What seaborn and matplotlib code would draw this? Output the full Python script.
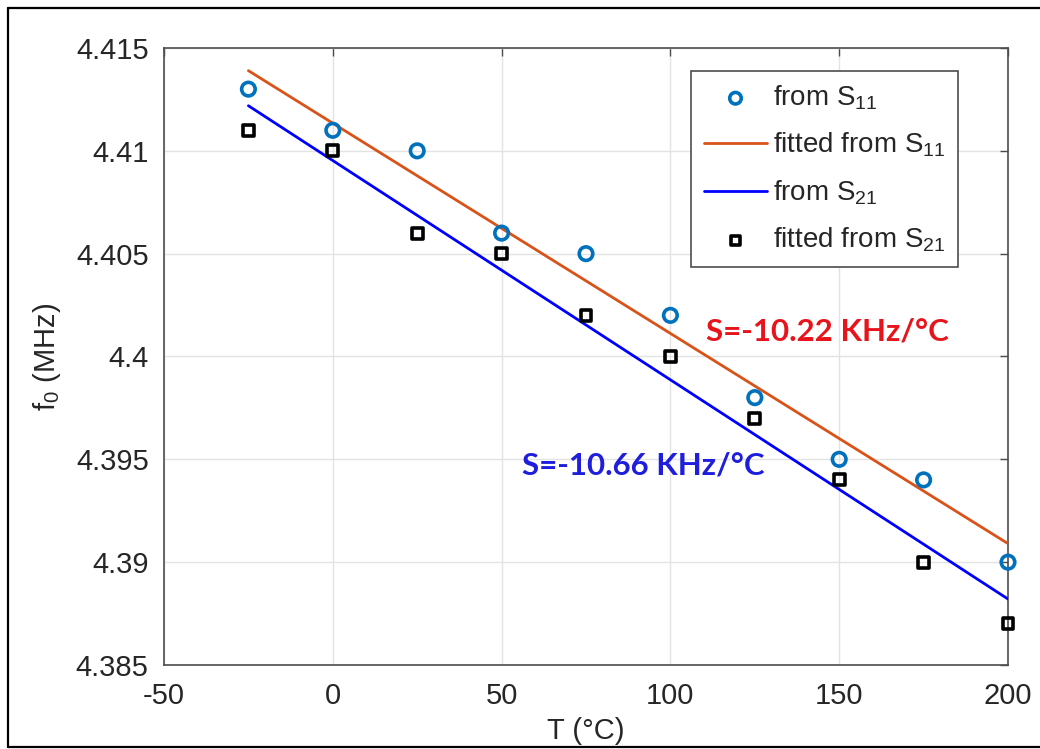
import numpy as np
import pandas as pd
import matplotlib
matplotlib.use("Agg")
import matplotlib.pyplot as plt
import seaborn as sns
from matplotlib.lines import Line2D
from matplotlib.ticker import FuncFormatter, FixedLocator

# Resonance frequency versus temperature
temps = [-25, 0, 25, 50, 75, 100, 125, 150, 175, 200]
f0_s11 = [4.413, 4.411, 4.410, 4.406, 4.405, 4.402, 4.398, 4.395, 4.394, 4.390]
f0_s21 = [4.411, 4.410, 4.406, 4.405, 4.402, 4.400, 4.397, 4.394, 4.390, 4.387]

# Sensitivities printed next to the fitted lines
slope_s11 = -10.22
slope_s21 = -10.66
slope_to_mhz = 1e-5  # printed sensitivity unit -> MHz per degree C on the fitted line

x_ticks = [-50, 0, 50, 100, 150, 200]
y_ticks = [4.385, 4.39, 4.395, 4.40, 4.405, 4.41, 4.415]

sns.set_style("white")
plt.rcParams["font.family"] = ["Liberation Sans", "DejaVu Sans"]
plt.rcParams["mathtext.fontset"] = "custom"
plt.rcParams["mathtext.rm"] = "Liberation Sans"
plt.rcParams["mathtext.it"] = "Liberation Sans"

TXT = "#262626"
C_S11 = "#0072BD"
C_FIT11 = "#D95319"
C_FIT21 = "#0000FF"


def fit_line(t, f, slope):
    t = np.asarray(t, float)
    f = np.asarray(f, float)
    tt = np.array([t.min(), t.max()])
    return tt, f.mean() + slope * slope_to_mhz * (tt - t.mean())


t11, l11 = fit_line(temps, f0_s11, slope_s11)
t21, l21 = fit_line(temps, f0_s21, slope_s21)

df = pd.DataFrame({"T": temps, "s11": f0_s11, "s21": f0_s21})
fit11 = pd.DataFrame({"T": t11, "f": l11})
fit21 = pd.DataFrame({"T": t21, "f": l21})

fig = plt.figure(figsize=(10.4, 7.49), dpi=100)
fig.patch.set_facecolor("white")
ax = fig.add_axes([164 / 1040, 1 - 665 / 749, 844 / 1040, 617 / 749])

sns.scatterplot(data=df, x="T", y="s11", ax=ax, marker="o", s=95,
                facecolors="none", edgecolors=C_S11, linewidths=2.6,
                label=r"from S$_{\mathregular{11}}$", zorder=4, clip_on=False)
sns.lineplot(data=fit11, x="T", y="f", ax=ax, color=C_FIT11, lw=2.0,
             label=r"fitted from S$_{\mathregular{11}}$", zorder=3)
sns.lineplot(data=fit21, x="T", y="f", ax=ax, color=C_FIT21, lw=2.0,
             label=r"from S$_{\mathregular{21}}$", zorder=3)
sns.scatterplot(data=df, x="T", y="s21", ax=ax, marker="s", s=62,
                facecolors="none", edgecolors="black", linewidths=2.6,
                label=r"fitted from S$_{\mathregular{21}}$", zorder=4, clip_on=False)

ax.set_xlim(-50, 200)
ax.set_ylim(4.385, 4.415)
ax.xaxis.set_major_locator(FixedLocator(x_ticks))
ax.yaxis.set_major_locator(FixedLocator(y_ticks))
ax.yaxis.set_major_formatter(FuncFormatter(lambda v, p: f"{v:g}"))
ax.xaxis.set_major_formatter(FuncFormatter(lambda v, p: f"{v:g}"))

ax.grid(True, color="#e3e3e3", lw=1.0)
ax.set_axisbelow(True)
for sp in ax.spines.values():
    sp.set_visible(True)
    sp.set_color("#4d4d4d")
    sp.set_linewidth(1.2)
ax.tick_params(axis="both", direction="in", length=6, width=1.0, color="#4d4d4d",
               labelsize=21, labelcolor=TXT, top=True, right=True)
ax.tick_params(axis="x", pad=12)
ax.tick_params(axis="y", pad=11)

ax.set_xlabel("T (°C)", fontsize=21, color=TXT, labelpad=5)
ax.set_ylabel(r"f$_{\mathregular{0}}$ (MHz)", fontsize=21, color=TXT, labelpad=9)

handles, labels = ax.get_legend_handles_labels()
leg = ax.legend(handles, labels, loc="upper right",
                bbox_to_anchor=((958 - 164) / 844, (665 - 71) / 617),
                borderaxespad=0, fontsize=20, frameon=True, fancybox=False,
                framealpha=1, edgecolor="#4d4d4d", handlelength=2.3,
                handletextpad=0.2, labelspacing=0.68, borderpad=0.45,
                scatterpoints=1, markerscale=0.85)
leg.get_frame().set_linewidth(1.2)
for t in leg.get_texts():
    t.set_color(TXT)

ax.text(110.5, 4.4012, f"S={slope_s11:.2f} KHz/°C", color="#E8141B",
        fontsize=22.5, fontweight="bold", family=["Lato", "DejaVu Sans"],
        va="center", ha="left")
ax.text(56.0, 4.3947, f"S={slope_s21:.2f} KHz/°C", color="#1E1EDC",
        fontsize=22.5, fontweight="bold", family=["Lato", "DejaVu Sans"],
        va="center", ha="left")

# outer frame, open on the right
frame_kw = dict(transform=fig.transFigure, color="black", lw=1.6, zorder=11)
x0, yt, yb = 8 / 1040, 1 - 8 / 749, 1 - 747 / 749
fig.add_artist(Line2D([x0, x0], [yb, yt], **frame_kw))
fig.add_artist(Line2D([x0, 1], [yt, yt], **frame_kw))
fig.add_artist(Line2D([x0, 1], [yb, yb], **frame_kw))

fig.savefig("out.png", dpi=100, facecolor="white")
